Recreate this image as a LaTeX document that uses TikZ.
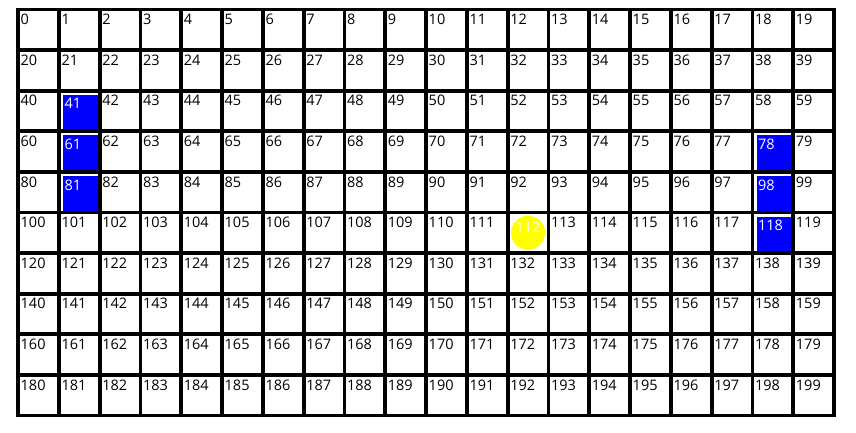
\documentclass[tikz,border=0pt]{standalone}
\usepackage{fontspec}
\setsansfont{Open Sans}
\usetikzlibrary{positioning,calc}
\definecolor{occupied}{HTML}{0000FF}
\definecolor{agent}{HTML}{FFFF00}

\begin{document}
\begin{tikzpicture}[x=1pt, y=-1pt,
  cell/.style={draw=black, line width=3.8pt, outer sep=0pt, inner sep=0pt,
    minimum width=40.8pt, minimum height=40.6pt},
  num/.style={anchor=north west, inner sep=0pt,
    font=\sffamily\fontsize{14.5}{15}\selectfont},
  agentdot/.style={circle, fill=agent, minimum size=34pt, inner sep=0pt}]
  \useasboundingbox (0,0) rectangle (856,433);
  \fill[white] (0,0) rectangle (856,433);

  % the 20 x 10 grid with its cell numbers
  \foreach \r in {0,...,9}{
    \foreach \c in {0,...,19}{
      \pgfmathtruncatemacro{\n}{20*\r+\c}
      \pgfmathtruncatemacro{\busy}{(\n==41)||(\n==61)||(\n==81)||(\n==78)||(\n==98)||(\n==118)||(\n==112)}
      \node[cell] (c\n) at ({18+40.8*(\c+0.5)}, {9.5+40.6*(\r+0.5)}) {};
      \ifnum\busy=0
        \node[num, xshift=2.5pt, yshift=-4.5pt] at (c\n.north west) {\n};
      \fi
    }
  }

  % occupied cells
  \foreach \n in {41,61,81,78,98,118}{
    \fill[occupied] ($(c\n.north west)+(4.5,4)$) rectangle ($(c\n.south east)-(1.9,1.9)$);
    \node[num, text=white, xshift=5.5pt, yshift=-7.5pt] at (c\n.north west) {\n};
  }

  % agent position
  \node[agentdot] (robot) at (c112) {};
  \node[num, anchor=center, text=white] at ([yshift=6pt]robot.center) {112};
\end{tikzpicture}
\end{document}
